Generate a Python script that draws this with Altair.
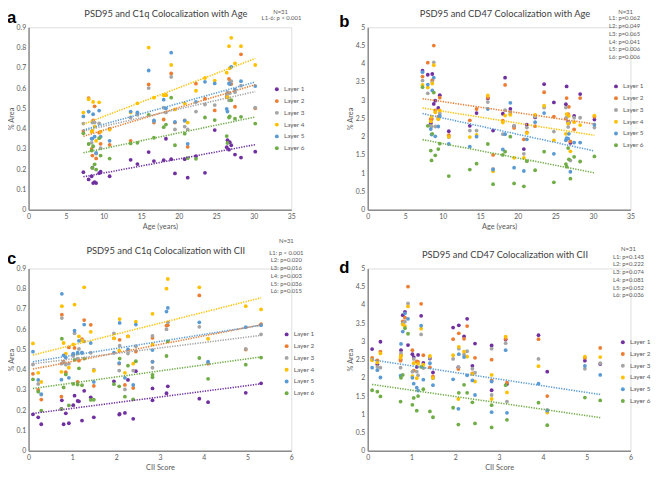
import altair as alt
import pandas as pd

layers = ["Layer 1", "Layer 2", "Layer 3", "Layer 4", "Layer 5", "Layer 6"]
colors = ["#7030A0", "#ED7D31", "#A5A5A5", "#FFC000", "#5B9BD5", "#70AD47"]

# one entry per subject (N=31)
age = [7.3, 8.0, 8.4, 8.5, 8.6, 8.8, 9.0, 9.4, 9.6, 10.8, 13.6, 14.5, 16.0, 16.7, 18.0, 18.3,
       19.0, 19.5, 20.8, 21.2, 22.3, 23.5, 24.8, 26.4, 26.5, 26.7, 26.8, 27.0, 27.5, 28.3, 30.2]
cii = [0.85, 1.22, 0.22, 0.75, 0.80, 0.92, 0.29, 0.10, 2.20, 1.49, 1.12, 1.02, 3.15, 4.10, 1.15, 2.27,
       0.76, 2.07, 2.83, 2.39, 1.42, 2.08, 2.45, 2.83, 1.95, 1.27, 5.31, 3.18, 1.05, 3.90, 4.96]

c1q_L1 = [.185, .149, .165, .207, .131, .136, .131, .18, .187, .165, .246, .225, .284, .24, .244, .35,
          .249, .179, .249, .158, .264, .182, .393, .308, .343, .296, .333, .318, .272, .257, .286]
c1q_L2 = [.388, .551, .30, .267, .44, .51, .253, .38, .325, .32, .34, .475, .618, .43, .445, .565,
          .672, .43, .44, .31, .622, .548, .49, .557, .555, .645, .625, .62, .508, .767, .50]
c1q_L3 = [.425, .484, .33, .43, .435, .43, .277, .426, .303, .40, .455, .468, .60, .435, .503, .48,
          .655, .396, .41, .396, .484, .519, .516, .567, .58, .54, .575, .634, .58, .612, .503]
c1q_L4 = [.479, .545, .385, .39, .532, .41, .34, .53, .385, .395, .48, .525, .80, .553, .565, .565,
          .714, .495, .525, .43, .587, .65, .637, .676, .555, .807, .698, .848, .722, .807, .714]
c1q_L5 = [.46, .484, .35, .351, .471, .36, .28, .489, .36, .34, .484, .48, .687, .44, .543, .50,
          .775, .433, .439, .325, .532, .631, .623, .497, .484, .623, .62, .705, .593, .634, .61]
c1q_L6 = [.377, .324, .292, .206, .313, .224, .198, .353, .267, .252, .327, .33, .468, .355, .407, .42,
          .553, .318, .375, .254, .251, .455, .442, .363, .329, .455, .46, .54, .449, .458, .425]

cd47_L1 = [3.81, 3.70, 2.37, 2.50, 3.72, 2.90, 2.99, 2.79, 3.14, 2.15, 2.30, 2.65, 3.05, 2.17, 2.63, 3.62,
           2.76, 2.29, 1.66, 2.33, 2.53, 3.44, 2.94, 2.89, 3.38, 2.41, 2.38, 1.83, 2.57, 3.17, 2.47]
cd47_L2 = [3.65, 4.03, 2.48, 2.47, 3.55, 4.50, 2.72, 2.55, 3.07, 2.04, 2.45, 2.76, 3.07, 1.50, 2.44, 3.42,
           2.62, 2.24, 1.93, 2.12, 2.29, 3.22, 2.55, 2.50, 3.06, 2.62, 2.82, 1.87, 2.20, 3.06, 2.55]
cd47_L3 = [3.54, 3.19, 2.30, 2.28, 3.50, 4.04, 2.28, 2.50, 2.64, 1.99, 2.17, 2.17, 2.95, 1.12, 2.07, 2.73,
           2.68, 2.30, 1.53, 2.25, 2.55, 2.80, 2.14, 2.80, 2.52, 2.27, 2.40, 1.35, 2.52, 2.52, 2.25]
cd47_L4 = [3.42, 3.35, 2.42, 2.55, 3.46, 3.96, 2.67, 2.48, 2.72, 2.00, 1.99, 2.05, 3.13, 1.05, 2.39, 2.58,
           2.60, 1.42, 1.42, 2.10, 2.60, 2.85, 1.90, 2.08, 2.62, 2.36, 2.57, 1.60, 2.40, 2.32, 2.58]
cd47_L5 = [3.77, 3.43, 2.21, 2.06, 3.27, 3.62, 2.01, 2.28, 2.57, 1.80, 1.73, 2.00, 2.76, 1.10, 1.65, 2.07,
           2.93, 1.15, 1.06, 1.93, 2.40, 2.65, 1.53, 1.90, 1.96, 1.95, 2.08, 1.04, 1.84, 1.84, 2.33]
cd47_L6 = [3.36, 2.30, 1.62, 1.35, 2.08, 3.21, 1.49, 1.66, 1.81, 0.92, 1.10, 1.26, 1.80, 0.70, 1.50, 1.59,
           2.00, 0.72, 0.64, 1.33, 1.08, 1.59, 0.75, 1.25, 1.18, 1.69, 1.38, 0.85, 1.45, 1.32, 1.46]

age_ticks = [0, 5, 10, 15, 20, 25, 30, 35]
cii_ticks = [0, 1, 2, 3, 4, 5, 6]
c1q_ticks = [0, 0.1, 0.2, 0.3, 0.4, 0.5, 0.6, 0.7, 0.8, 0.9]
cd47_ticks = [0, 0.5, 1, 1.5, 2, 2.5, 3, 3.5, 4, 4.5, 5]

stats_a = ["L1-6: p < 0.001"]
stats_b = ["L1: p=0.062", "L2: p=0.049", "L3:  p=0.065", "L4: p=0.041", "L5: p=0.006", "L6: p=0.006"]
stats_c = ["L1: p < 0.001", "L2: p=0.020", "L3: p=0.016", "L4: p=0.003", "L5: p=0.036", "L6: p=0.015"]
stats_d = ["L1: p=0.143", "L2: p=0.222", "L3: p=0.074", "L4: p=0.081", "L5: p=0.052", "L6: p=0.036"]


def long_df(cols):
    rows = []
    for lname, vals in zip(layers, cols):
        for a, c, v in zip(age, cii, vals):
            rows.append({"age": a, "cii": c, "layer": lname, "value": v})
    return pd.DataFrame(rows)


df_c1q = long_df([c1q_L1, c1q_L2, c1q_L3, c1q_L4, c1q_L5, c1q_L6])
df_cd47 = long_df([cd47_L1, cd47_L2, cd47_L3, cd47_L4, cd47_L5, cd47_L6])

FONT = "Lato"
W, H = 268, 186
color_scale = alt.Scale(domain=layers, range=colors)


def text_layer(txt, xy, size, color, align="center", weight="normal", font=FONT, baseline="middle"):
    return alt.Chart(pd.DataFrame({"t": [txt]})).mark_text(
        font=font, fontSize=size, color=color, align=align, baseline=baseline,
        fontWeight=weight, lineBreak="\n", lineHeight=7.9
    ).encode(x=alt.value(xy[0]), y=alt.value(xy[1]), text="t:N")


def panel(df, xfield, xticks, xtitle, yticks, trend, title, letter, stats,
          legend_xy, title_y, head_xy, body_xy, letter_xy):
    xs = alt.Scale(domain=[xticks[0], xticks[-1]], nice=False, zero=True)
    ys = alt.Scale(domain=[yticks[0], yticks[-1]], nice=False, zero=True)
    common = dict(grid=False, ticks=False, domainColor="#8c8c8c", domainWidth=1.5,
                  labelColor="#595959", labelFontSize=7, labelFont=FONT, titleFont=FONT,
                  titleFontSize=7.5, titleColor="#595959", titleFontWeight="normal",
                  format="~g", labelOverlap=False, labelSeparation=0)
    xaxis = alt.Axis(values=xticks, tickCount=len(xticks), title=xtitle, labelPadding=3,
                     titlePadding=3, labelFlush=False, **common)
    yaxis = alt.Axis(values=yticks, tickCount=len(yticks), title="% Area", labelPadding=3,
                     titlePadding=1, **common)
    legend = alt.Legend(orient="none", legendX=legend_xy[0], legendY=legend_xy[1], title=None,
                        labelFontSize=6.5, labelColor="#595959", labelFont=FONT, symbolType="circle",
                        symbolSize=16, symbolStrokeWidth=0, rowPadding=5, labelOffset=4)
    base = alt.Chart(df)
    pts = base.mark_circle(size=15, opacity=1).encode(
        x=alt.X(f"{xfield}:Q", scale=xs, axis=xaxis),
        y=alt.Y("value:Q", scale=ys, axis=yaxis),
        color=alt.Color("layer:N", scale=color_scale, legend=legend),
    )
    lines = base.transform_filter(
        alt.FieldOneOfPredicate(field="layer", oneOf=trend)
    ).transform_regression(xfield, "value", groupby=["layer"]).mark_line(
        strokeDash=[1.3, 1.3], strokeWidth=1.6
    ).encode(
        x=alt.X(f"{xfield}:Q", scale=xs, axis=xaxis),
        y=alt.Y("value:Q", scale=ys, axis=yaxis),
        color=alt.Color("layer:N", scale=color_scale, legend=None),
    )
    ttl = text_layer(title, (W / 2 + 6, title_y), 9.5, "#404040")
    head = text_layer("N=31", head_xy, 6, "#595959")
    body = text_layer("\n".join(stats), body_xy, 6, "#595959", baseline="top")
    let = text_layer(letter, letter_xy, 17, "#000000", align="left", weight="bold",
                     font="Liberation Sans", baseline="alphabetic")
    return alt.layer(pts, lines, ttl, head, body, let).properties(width=W, height=H)


pa = panel(df_c1q, "age", age_ticks, "Age (years)", c1q_ticks, layers,
           "PSD95 and C1q Colocalization with Age", "a", stats_a,
           (250, 60), -14, (257, -16), (258, -12), (-22, -4))
pb = panel(df_cd47, "age", age_ticks, "Age (years)", cd47_ticks,
           ["Layer 2", "Layer 4", "Layer 5", "Layer 6"],
           "PSD95 and CD47 Colocalization with Age", "b", stats_b,
           (250, 57), -14, (263, -16), (262, -12), (-29, 0))
pc = panel(df_c1q, "cii", cii_ticks, "CII Score", c1q_ticks, layers,
           "PSD95 and C1q Colocalization with CII", "c", stats_c,
           (260, 64), -18, (263, -28), (263, -19), (-22, -5))
pd_ = panel(df_cd47, "cii", cii_ticks, "CII Score", cd47_ticks, ["Layer 5", "Layer 6"],
            "PSD95 and CD47 Colocalization with CII", "d", stats_d,
            (257, 72), -14, (266, -20), (266, -15), (-29, 5))

chart = alt.concat(pa, pb, pc, pd_, columns=2, spacing={"row": 60, "column": 78},
                   bounds="flush").resolve_scale(color="independent").resolve_legend(
    color="independent"
).properties(
    padding={"left": -2, "top": -5, "right": 0, "bottom": 0},
).configure_view(stroke=None).configure_axis(labelOverlap=False).configure(background="white")

chart.save("out.html", embed_options={"renderer": "svg", "actions": False})
